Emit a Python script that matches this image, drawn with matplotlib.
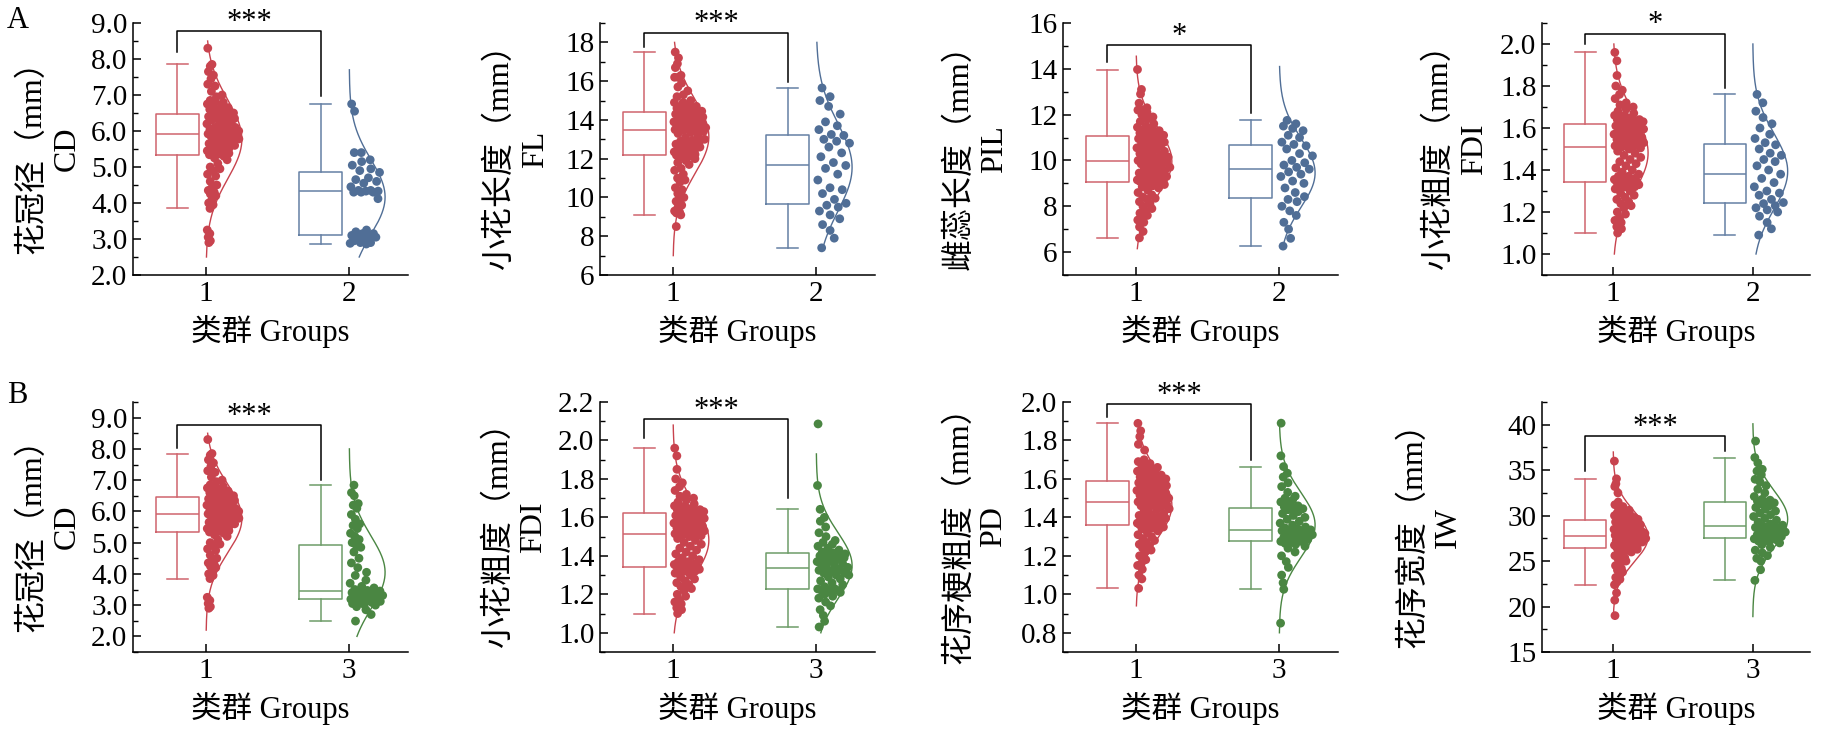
import numpy as np
import matplotlib.pyplot as plt
from matplotlib.ticker import MultipleLocator, FormatStrFormatter

plt.rcParams['font.family'] = ['Liberation Serif', 'Noto Sans CJK SC']
plt.rcParams['axes.unicode_minus'] = False

# ---- values ----
# group 1 (red)
cd_g1 = [8.3, 7.85, 7.8, 7.65, 7.55, 7.45, 7.3, 7.25, 7.1, 7.0, 6.95, 6.85, 6.8, 6.8, 6.75, 6.7, 6.7,
         6.65, 6.6, 6.6, 6.55, 6.55, 6.5, 6.5, 6.5,
         6.45, 6.45, 6.4, 6.4, 6.35, 6.35, 6.3, 6.3, 6.25, 6.2, 6.2, 6.15, 6.1, 6.1, 6.05, 6.05,
         6.0, 6.0, 6.0, 5.98, 5.95, 5.95, 5.93, 5.92, 5.92,
         5.9, 5.88, 5.85, 5.85, 5.8, 5.8, 5.78, 5.75, 5.72, 5.7, 5.7, 5.65, 5.65, 5.6, 5.6, 5.58,
         5.55, 5.5, 5.5, 5.45, 5.42, 5.4, 5.38, 5.36, 5.34,
         5.3, 5.25, 5.2, 5.1, 5.0, 4.95, 4.9, 4.8, 4.75, 4.6, 4.5, 4.45, 4.35, 4.3, 4.25, 4.2,
         4.1, 4.0, 3.95, 3.85, 3.25, 3.15, 3.05, 2.95, 2.9]
fl_g1 = [17.5, 17.2, 16.9, 16.7, 16.3, 16.2, 16.2, 15.9, 15.7, 15.5, 15.3, 15.2, 15.0, 14.9, 14.9,
         14.8, 14.7, 14.7, 14.6, 14.6, 14.5, 14.5, 14.45, 14.45, 14.42,
         14.38, 14.35, 14.3, 14.25, 14.2, 14.15, 14.1, 14.05, 14.0, 13.95, 13.9, 13.85, 13.8, 13.8,
         13.75, 13.7, 13.7, 13.65, 13.6, 13.6, 13.55, 13.55, 13.52, 13.5, 13.5,
         13.46, 13.4, 13.35, 13.3, 13.2, 13.1, 13.0, 12.95, 12.9, 12.85, 12.8, 12.75, 12.7, 12.65,
         12.6, 12.55, 12.5, 12.45, 12.4, 12.35, 12.3, 12.25, 12.22, 12.2, 12.18,
         12.15, 12.1, 12.0, 11.9, 11.8, 11.7, 11.5, 11.4, 11.2, 11.0, 10.9, 10.8, 10.5, 10.4, 10.2,
         10.0, 9.9, 9.8, 9.6, 9.5, 9.3, 9.25, 9.2, 9.1, 8.5]
pil_g1 = [13.97, 13.1, 12.9, 12.5, 12.3, 12.2, 12.2, 12.1, 12.0, 11.9, 11.8, 11.7, 11.6, 11.5, 11.45,
          11.4, 11.35, 11.3, 11.25, 11.2, 11.15, 11.12, 11.1, 11.1, 11.08,
          11.05, 11.0, 10.95, 10.9, 10.85, 10.8, 10.75, 10.7, 10.65, 10.6, 10.55, 10.5, 10.45, 10.4,
          10.35, 10.3, 10.25, 10.2, 10.15, 10.1, 10.08, 10.05, 10.02, 10.0, 10.0,
          9.98, 9.95, 9.9, 9.85, 9.8, 9.75, 9.7, 9.65, 9.6, 9.55, 9.5, 9.45, 9.4, 9.35, 9.3, 9.25,
          9.2, 9.2, 9.15, 9.15, 9.12, 9.1, 9.1, 9.08, 9.08,
          9.05, 9.0, 8.95, 8.9, 8.85, 8.8, 8.7, 8.6, 8.5, 8.4, 8.35, 8.3, 8.2, 8.1, 8.0, 7.9, 7.8,
          7.7, 7.6, 7.5, 7.4, 7.3, 7.1, 6.9, 6.62]
fdi_g1 = [1.96, 1.92, 1.85, 1.8, 1.78, 1.76, 1.74, 1.72, 1.71, 1.7, 1.69, 1.68, 1.67, 1.66, 1.66,
          1.65, 1.65, 1.64, 1.64, 1.64, 1.63, 1.63, 1.63, 1.625, 1.625,
          1.62, 1.615, 1.61, 1.605, 1.6, 1.595, 1.59, 1.585, 1.58, 1.575, 1.57, 1.565, 1.56, 1.555,
          1.55, 1.545, 1.54, 1.535, 1.53, 1.525, 1.52, 1.52, 1.515, 1.515, 1.513,
          1.51, 1.505, 1.5, 1.49, 1.48, 1.47, 1.46, 1.45, 1.44, 1.43, 1.42, 1.41, 1.4, 1.39, 1.38,
          1.37, 1.37, 1.36, 1.36, 1.355, 1.35, 1.35, 1.345, 1.345, 1.343,
          1.34, 1.335, 1.33, 1.33, 1.325, 1.32, 1.32, 1.31, 1.3, 1.29, 1.28, 1.27, 1.26, 1.25, 1.24,
          1.23, 1.22, 1.2, 1.19, 1.17, 1.16, 1.15, 1.13, 1.12, 1.1]
pd_g1 = [1.889, 1.85, 1.82, 1.78, 1.75, 1.7, 1.69, 1.68, 1.67, 1.66, 1.66, 1.65, 1.65, 1.64, 1.64,
         1.63, 1.63, 1.62, 1.62, 1.61, 1.61, 1.6, 1.6, 1.595, 1.593,
         1.589, 1.585, 1.58, 1.575, 1.57, 1.565, 1.56, 1.555, 1.55, 1.545, 1.54, 1.535, 1.53, 1.525,
         1.52, 1.515, 1.51, 1.505, 1.5, 1.495, 1.49, 1.487, 1.484, 1.481, 1.479,
         1.477, 1.47, 1.465, 1.46, 1.455, 1.45, 1.445, 1.44, 1.43, 1.42, 1.415, 1.41, 1.405, 1.4,
         1.395, 1.39, 1.385, 1.38, 1.375, 1.37, 1.368, 1.366, 1.364, 1.362, 1.361,
         1.359, 1.355, 1.35, 1.345, 1.34, 1.33, 1.32, 1.31, 1.3, 1.29, 1.28, 1.27, 1.26, 1.25, 1.24,
         1.23, 1.22, 1.2, 1.18, 1.16, 1.15, 1.13, 1.1, 1.08, 1.031]
iw_g1 = [36.0, 34.05, 33.5, 33.2, 32.5, 31.5, 31.2, 31.0, 30.8, 30.6, 30.4, 30.3, 30.2, 30.1, 30.0,
         29.9, 29.85, 29.8, 29.75, 29.7, 29.65, 29.62, 29.6, 29.58, 29.57,
         29.5, 29.4, 29.3, 29.2, 29.1, 29.0, 28.9, 28.8, 28.7, 28.6, 28.5, 28.4, 28.35, 28.3, 28.25,
         28.2, 28.15, 28.1, 28.05, 28.0, 27.95, 27.9, 27.87, 27.84, 27.82,
         27.8, 27.75, 27.7, 27.65, 27.6, 27.55, 27.5, 27.45, 27.4, 27.35, 27.3, 27.25, 27.2, 27.15,
         27.1, 27.0, 26.95, 26.9, 26.8, 26.75, 26.7, 26.6, 26.55, 26.5, 26.48,
         26.44, 26.4, 26.3, 26.2, 26.1, 26.0, 25.8, 25.6, 25.4, 25.2, 25.0, 24.8, 24.5, 24.2, 24.0,
         23.8, 23.5, 23.2, 23.0, 22.7, 22.4, 21.5, 20.7, 19.0, 22.9]

# group 2 (blue)
cd_g2 = [6.75, 6.55, 5.4, 5.4, 5.2, 5.15, 5.05, 4.95, 4.9, 4.85, 4.7, 4.65, 4.6, 4.55, 4.45, 4.35,
         4.35, 4.33, 4.33, 4.3, 4.3, 4.3, 4.12, 3.25, 3.2, 3.15, 3.15, 3.1, 3.1, 3.08, 3.05, 3.0,
         2.95, 2.9, 2.9, 2.88, 2.86]
fl_g2 = [7.4, 7.9, 8.3, 8.6, 8.9, 9.1, 9.3, 9.5, 9.6, 9.7, 9.9, 10.2, 10.4, 10.5, 10.9, 11.2, 11.5,
         11.65, 11.8, 12.1, 12.3, 12.6, 12.8, 12.9, 13.0, 13.2, 13.25, 13.5, 13.7, 13.9, 14.3, 14.7,
         15.0, 15.2, 15.65]
pil_g2 = [6.26, 6.6, 7.0, 7.3, 7.6, 7.8, 8.0, 8.2, 8.3, 8.42, 8.6, 8.8, 9.0, 9.1, 9.3, 9.4, 9.5,
          9.62, 9.7, 9.8, 9.9, 10.0, 10.2, 10.3, 10.5, 10.64, 10.7, 10.8, 11.0, 11.1, 11.3, 11.4,
          11.5, 11.6, 11.75]
fdi_g2 = [1.09, 1.12, 1.15, 1.18, 1.2, 1.21, 1.22, 1.23, 1.24, 1.245, 1.26, 1.28, 1.29, 1.3, 1.32,
          1.34, 1.36, 1.38, 1.4, 1.42, 1.44, 1.45, 1.47, 1.48, 1.5, 1.52, 1.53, 1.55, 1.57, 1.6,
          1.62, 1.65, 1.68, 1.72, 1.76]

# group 3 (green)
cd_g3 = [2.49, 2.7, 2.85, 2.95, 3.0, 3.02, 3.05, 3.08, 3.1, 3.12,
         3.14, 3.15, 3.17, 3.18, 3.19, 3.2, 3.22, 3.24, 3.25, 3.27,
         3.28, 3.3, 3.31, 3.33, 3.35, 3.36, 3.38, 3.4, 3.42, 3.43,
         3.45, 3.47, 3.5, 3.55, 3.6, 3.7, 3.8, 3.95, 4.05, 4.2,
         4.35, 4.5, 4.7, 4.85, 4.9, 5.0, 5.1, 5.2, 5.3, 5.45,
         5.55, 5.6, 5.75, 5.9, 6.1, 6.2, 6.25, 6.5, 6.6, 6.84]
fdi_g3 = [1.03, 1.06, 1.09, 1.12, 1.14, 1.16, 1.18, 1.19, 1.2, 1.21,
          1.21, 1.22, 1.22, 1.225, 1.228, 1.23, 1.24, 1.25, 1.26, 1.27,
          1.28, 1.29, 1.3, 1.3, 1.31, 1.31, 1.32, 1.325, 1.33, 1.335,
          1.34, 1.345, 1.35, 1.36, 1.37, 1.37, 1.38, 1.38, 1.39, 1.39,
          1.4, 1.4, 1.41, 1.41, 1.415, 1.42, 1.43, 1.44, 1.45, 1.46,
          1.47, 1.48, 1.5, 1.52, 1.55, 1.58, 1.6, 1.642, 1.766, 2.086]
pd_g3 = [0.85, 1.026, 1.06, 1.1, 1.14, 1.17, 1.2, 1.22, 1.24, 1.25,
         1.26, 1.265, 1.27, 1.272, 1.275, 1.278, 1.28, 1.285, 1.29, 1.295,
         1.3, 1.305, 1.31, 1.315, 1.32, 1.32, 1.325, 1.33, 1.33, 1.332,
         1.335, 1.34, 1.345, 1.35, 1.36, 1.37, 1.38, 1.39, 1.4, 1.41,
         1.42, 1.43, 1.44, 1.445, 1.45, 1.455, 1.46, 1.47, 1.48, 1.49,
         1.5, 1.51, 1.53, 1.56, 1.58, 1.61, 1.63, 1.664, 1.72, 1.89]
iw_g3 = [22.88, 24.05, 25.0, 25.3, 25.6, 25.9, 26.2, 26.5, 26.8, 27.0,
         27.1, 27.2, 27.3, 27.4, 27.45, 27.5, 27.6, 27.7, 27.8, 27.9,
         28.0, 28.1, 28.2, 28.3, 28.4, 28.5, 28.6, 28.7, 28.8, 28.85,
         28.95, 29.1, 29.3, 29.5, 29.7, 29.9, 30.1, 30.3, 30.5, 30.7,
         30.9, 31.1, 31.3, 31.4, 31.5, 31.6, 31.7, 31.8, 32.1, 32.5,
         32.9, 33.3, 33.7, 34.0, 34.5, 34.9, 35.1, 35.8, 36.39, 38.2]

point_colors = {1: '#C8434E', 2: '#506E96', 3: '#4A8642'}
box_colors = {1: '#D0646D', 2: '#6580A4', 3: '#6E9C68'}

# panel setup: (row, col, data, group ids, ylim, major, minor, fmt, ylabel, labelpad,
#               normal-curve extents, bracket (top, left end, right end), stars)
panels = [
    (0, 0, (cd_g1, cd_g2), (1, 2), (2.0, 9.0), 1.0, 0.5, '%.1f', '花冠径（mm）\nCD', 7,
     ((2.5, 8.5), (2.5, 7.7)), (8.78, 8.2, 6.97), '***'),
    (0, 1, (fl_g1, fl_g2), (1, 2), (6, 19), 2, 1, '%d', '小花长度（mm）\nFL', 11,
     ((7.0, 18.0), (7.3, 18.0)), (18.49, 17.74, 15.95), '***'),
    (0, 2, (pil_g1, pil_g2), (1, 2), (5, 16), 2, 1, '%d', '雌蕊长度（mm）\nPIL', 14,
     ((6.15, 14.55), (6.2, 14.1)), (15.02, 14.3, 12.06), '*'),
    (0, 3, (fdi_g1, fdi_g2), (1, 2), (0.9, 2.1), 0.2, 0.1, '%.1f', '小花粗度（mm）\nFDI', 8,
     ((1.0, 2.0), (1.0, 2.0)), (2.05, 2.0, 1.79), '*'),
    (1, 0, (cd_g1, cd_g3), (1, 3), (1.5, 9.5), 1.0, 0.5, '%.1f', '花冠径（mm）\nCD', 7,
     ((2.2, 8.5), (2.0, 8.0)), (8.76, 8.02, 7.01), '***'),
    (1, 1, (fdi_g1, fdi_g3), (1, 3), (0.9, 2.2), 0.2, 0.1, '%.1f', '小花粗度（mm）\nFDI', 7,
     ((1.0, 2.08), (1.0, 1.93)), (2.112, 2.014, 1.699), '***'),
    (1, 2, (pd_g1, pd_g3), (1, 3), (0.7, 2.0), 0.2, 0.1, '%.1f', '花序梗粗度（mm）\nPD', 9,
     ((0.94, 1.9), (0.8, 1.89)), (1.99, 1.924, 1.698), '***'),
    (1, 3, (iw_g1, iw_g3), (1, 3), (15, 42.5), 5, 2.5, '%d', '花序宽度（mm）\nIW', 32,
     ((19.0, 37.0), (18.9, 40.1)), (38.76, 34.93, 37.08), '***'),
]

W, H = 1834, 735
col_left = [133, 600, 1063, 1542]
col_width = [275, 275, 275, 268]
row_box = [(23, 275), (402, 652)]


def density(vals):
    v = np.asarray(vals, dtype=float)
    h = 1.06 * v.std(ddof=1) * len(v) ** (-0.2)
    d = np.exp(-0.5 * ((v[:, None] - v[None, :]) / h) ** 2).sum(axis=1)
    return d / d.max()


def draw_group(ax, vals, pos, gid, extent):
    pc, bc = point_colors[gid], box_colors[gid]
    line = dict(color=bc, linewidth=1.1)
    ax.boxplot(vals, positions=[pos - 0.2], widths=0.3, whis=1.5, showfliers=False,
               capwidths=0.15, boxprops=line, whiskerprops=line, capprops=line,
               medianprops=line, manage_ticks=False)
    v = np.asarray(vals, dtype=float)
    spread = 0.235 * density(v)
    u = (np.arange(len(v)) * 0.6180339887 + 0.37) % 1.0
    ax.scatter(pos + 0.006 + u * spread, v, s=40, color=pc, edgecolors='none', zorder=3)
    ys = np.linspace(extent[0], extent[1], 300)
    mu, sd = v.mean(), v.std(ddof=1)
    ax.plot(pos + 0.25 * np.exp(-0.5 * ((ys - mu) / sd) ** 2), ys, color=pc, lw=1.0)


fig = plt.figure(figsize=(W / 100, H / 100), dpi=100)

for (row, col, data, gids, ylim, major, minor, fmt, ylabel, lpad,
     extents, bracket, stars) in panels:
    top, bot = row_box[row]
    ax = fig.add_axes([col_left[col] / W, 1 - bot / H, col_width[col] / W, (bot - top) / H])
    for k, (vals, gid) in enumerate(zip(data, gids)):
        draw_group(ax, vals, k + 1, gid, extents[k])

    # significance bracket
    yb, yl, yr = bracket
    ax.plot([0.8, 0.8, 1.8, 1.8], [yl, yb, yb, yr], color='black', lw=1.1, clip_on=False)
    ax.annotate(stars, xy=(1.3, yb), xytext=(0, 1), textcoords='offset points',
                ha='center', va='baseline', fontsize=22, annotation_clip=False)

    ax.set_xlim(0.49, 2.41)
    ax.set_ylim(*ylim)
    ax.set_xticks([1, 2])
    ax.set_xticklabels([str(g) for g in gids])
    ax.yaxis.set_major_locator(MultipleLocator(major))
    ax.yaxis.set_minor_locator(MultipleLocator(minor))
    ax.yaxis.set_major_formatter(FormatStrFormatter(fmt))
    ax.tick_params(axis='both', which='major', direction='in', length=6, width=1.1,
                   labelsize=21, pad=4)
    ax.tick_params(axis='y', which='minor', direction='in', length=3.5, width=1.0)
    ax.tick_params(axis='x', which='minor', bottom=False)
    for side in ('top', 'right'):
        ax.spines[side].set_visible(False)
    for side in ('left', 'bottom'):
        ax.spines[side].set_linewidth(1.1)
    ax.set_ylabel(ylabel, fontsize=23, labelpad=lpad, linespacing=1.25)
    ax.set_xlabel('类群 Groups', fontsize=22, labelpad=6)

fig.text(7 / W, 1 - 28 / H, 'A', fontsize=22, va='baseline')
fig.text(7 / W, 1 - 403 / H, 'B', fontsize=22, va='baseline')

fig.savefig('out.png', dpi=100)
